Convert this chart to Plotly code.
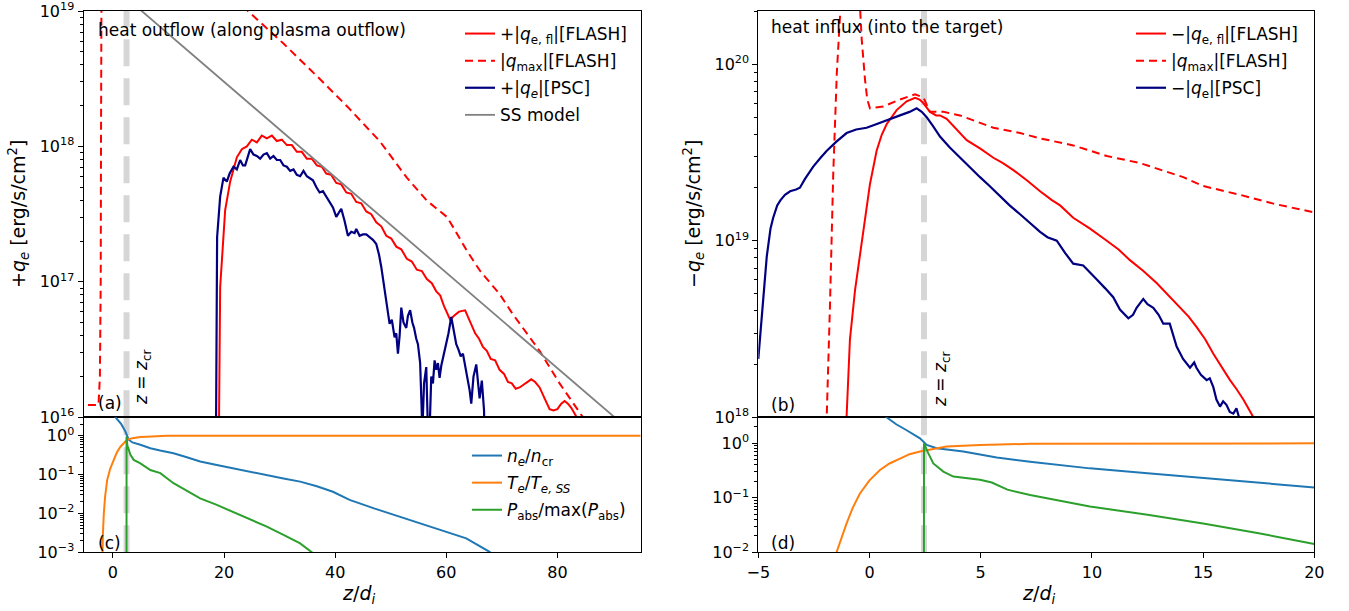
import plotly.graph_objects as go

FONT = "DejaVu Sans"
Z_CR = 2.45

# ---------------- panel (a): heat outflow (log10 of q) ----------------
z_fl_out = [19.0, 19.3, 20.2, 21.1, 22.3, 23.2, 24.1, 25.0, 25.9, 26.8, 27.7, 28.6, 29.5, 30.4,
            31.3, 32.2, 33.1, 34.0, 34.9, 35.8, 36.7, 37.6, 38.4, 39.3, 40.2, 41.1, 42.0, 42.9,
            43.8, 44.7, 45.6, 46.5, 47.4, 48.3, 49.2, 50.1, 51.0, 51.9, 52.9, 53.8, 54.7, 55.6,
            56.5, 57.4, 58.2, 58.9, 59.6, 60.2, 60.7, 61.4, 62.3, 63.4, 64.4, 65.2, 65.9, 66.6,
            67.3, 68.0, 68.8, 69.6, 70.4, 71.1, 71.8, 72.5, 73.2, 74.2, 75.3, 76.0, 76.8, 77.8,
            78.6, 79.3, 80.0, 80.7, 81.3, 81.9, 82.5, 83.2, 83.7, 84.5]
lq_fl_out = [15.5, 16.96, 17.53, 17.74, 17.92, 17.98, 18.00, 18.05, 18.03, 18.08, 18.06, 18.08, 18.04, 18.05,
             18.01, 18.01, 17.96, 17.96, 17.91, 17.91, 17.86, 17.85, 17.80, 17.79, 17.73, 17.72, 17.66, 17.65,
             17.59, 17.58, 17.52, 17.50, 17.44, 17.41, 17.34, 17.32, 17.26, 17.24, 17.17, 17.15, 17.09, 17.08,
             17.02, 16.99, 16.93, 16.90, 16.82, 16.76, 16.72, 16.75, 16.78, 16.79, 16.70, 16.62, 16.58, 16.52,
             16.49, 16.43, 16.42, 16.35, 16.32, 16.26, 16.25, 16.21, 16.22, 16.25, 16.28, 16.26, 16.22, 16.13,
             16.06, 16.05, 16.06, 16.10, 16.12, 16.10, 16.07, 16.02, 15.98, 15.8]

z_max_out = [-4.5, -2.6, -2.35, -2.2, -2.15, -2.1, -2.0, 0.0, 15.0, 24.3, 30.7, 37.2, 42.3, 48.0,
             52.9, 56.5, 60.1, 61.3, 63.7, 66.1, 69.6, 72.0, 76.8, 80.4, 84.6, 86.0]
lq_max_out = [16.09, 16.09, 16.3, 17.0, 18.0, 19.0, 20.0, 20.5, 19.6, 19.0, 18.76, 18.50, 18.29, 18.04,
              17.77, 17.60, 17.48, 17.40, 17.23, 17.08, 16.91, 16.76, 16.49, 16.25, 16.0, 15.9]

z_psc_out = [18.5, 18.7, 18.75, 19.3, 19.9, 20.5, 21.0, 21.7, 22.3, 22.9, 23.4, 23.8, 24.3, 24.7, 25.3,
             25.9, 26.5, 27.1, 27.7, 28.3, 28.9, 29.5, 30.1, 30.7, 31.3, 31.9, 32.5, 33.1, 33.7, 34.3,
             34.9, 35.5, 36.0, 36.6, 37.2, 37.8, 38.4, 39.0, 39.6, 40.2, 40.7, 41.1, 41.7, 42.3, 42.9,
             43.5, 43.8, 44.4, 45.0, 45.6, 46.2, 46.8, 47.4, 47.9, 48.3, 48.7, 49.2, 49.5, 49.8, 50.2,
             50.7, 51.0, 51.3, 51.6, 51.9, 52.3, 52.8, 53.1, 53.5, 53.9, 54.2, 54.6, 54.9, 55.3, 55.7,
             56.0, 56.4, 56.7, 57.0, 57.3, 57.6, 57.9, 58.2, 58.5, 58.8, 59.1, 59.5, 60.0, 60.4, 60.9,
             61.2, 61.5, 61.8, 62.2, 62.6, 63.0, 63.4, 63.8, 64.2, 64.5, 64.9, 65.4, 65.8, 66.0, 66.4,
             66.6, 66.8, 67.0]
lq_psc_out = [15.5, 16.5, 17.33, 17.63, 17.77, 17.74, 17.80, 17.85, 17.83, 17.90, 17.86, 17.86, 17.93, 17.98, 17.94,
              17.93, 17.91, 17.94, 17.95, 17.91, 17.93, 17.90, 17.90, 17.86, 17.85, 17.82, 17.83, 17.79, 17.78, 17.82,
              17.78, 17.76, 17.75, 17.70, 17.66, 17.67, 17.63, 17.58, 17.55, 17.48, 17.52, 17.54, 17.45, 17.34, 17.37,
              17.36, 17.39, 17.34, 17.35, 17.35, 17.33, 17.31, 17.28, 17.20, 17.11, 17.00, 16.89, 16.80, 16.69, 16.72,
              16.59, 16.62, 16.47, 16.60, 16.81, 16.70, 16.66, 16.75, 16.79, 16.70, 16.66, 16.58, 16.54, 16.40, 15.9,
              16.25, 16.37, 15.9, 15.9, 16.30, 16.25, 16.42, 16.35, 16.40, 16.29, 16.38, 16.45, 16.54, 16.62, 16.74,
              16.68, 16.60, 16.54, 16.50, 16.45, 16.47, 16.38, 16.30, 16.20, 16.10, 16.30, 16.39, 16.25, 16.14, 16.27,
              16.12, 16.05, 15.5]

z_ss = [0.0, 95.0]
lq_ss = [19.183, 15.834]

# ---------------- panel (b): heat influx (log10 of q) ----------------
z_fl_in = [-1.1, -1.03, -0.88, -0.65, -0.45, -0.28, 0.02, 0.32, 0.55, 0.77, 1.22, 1.67, 2.05, 2.25,
           2.42, 2.6, 2.72, 3.0, 3.17, 3.47, 3.9, 4.37, 5.0, 5.57, 6.0, 6.47, 7.1, 7.67, 8.2, 8.57,
           9.16, 9.9, 10.67, 11.2, 11.71, 12.3, 12.91, 13.45, 13.96, 14.35, 14.71, 15.1, 15.46,
           15.85, 16.21, 16.5, 16.81, 17.26, 17.5]
lq_fl_in = [17.8, 18.0, 18.44, 18.72, 18.90, 19.04, 19.32, 19.51, 19.60, 19.66, 19.74, 19.79, 19.81, 19.80,
            19.78, 19.75, 19.73, 19.71, 19.71, 19.69, 19.63, 19.57, 19.52, 19.47, 19.44, 19.40, 19.34, 19.28, 19.23, 19.20,
            19.13, 19.07, 19.00, 18.95, 18.89, 18.83, 18.76, 18.69, 18.62, 18.57, 18.51, 18.44, 18.36,
            18.28, 18.21, 18.16, 18.10, 18.0, 17.95]

z_max_in = [-2.0, -1.92, -1.78, -1.63, -1.47, -1.40, -1.3, -1.0, -0.5, -0.35, -0.2, -0.1, 0.02, 0.62,
            1.37, 2.05, 2.43, 2.6, 2.72, 3.32, 4.07, 5.57, 6.77, 7.67, 9.16, 10.67, 12.16, 14.11, 15.0,
            16.66, 18.16, 20.0]
lq_max_in = [17.8, 18.02, 18.62, 19.38, 19.95, 20.14, 20.5, 21.0, 20.5, 20.14, 19.91, 19.80, 19.75, 19.76,
             19.80, 19.83, 19.81, 19.76, 19.73, 19.73, 19.71, 19.64, 19.61, 19.58, 19.54, 19.48, 19.44, 19.36, 19.31,
             19.26, 19.21, 19.16]

z_psc_in = [-5.0, -4.8, -4.62, -4.45, -4.33, -4.15, -4.0, -3.8, -3.57, -3.3, -3.13, -2.9, -2.53, -2.2,
            -1.92, -1.5, -1.03, -0.6, -0.13, 0.3, 0.77, 1.37, 1.8, 2.12, 2.35, 2.57, 2.85, 3.17, 3.6,
            4.07, 4.5, 4.97, 5.4, 5.87, 6.3, 6.77, 7.2, 7.67, 8.0, 8.42, 8.8, 9.16, 9.61, 9.9, 10.22,
            10.6, 10.96, 11.26, 11.64, 11.85, 12.01, 12.31, 12.5, 12.76, 13.0, 13.21, 13.5, 13.81, 14.1,
            14.41, 14.6, 14.7, 14.9, 15.16, 15.3, 15.46, 15.6, 15.76, 15.9, 16.05, 16.2, 16.36, 16.5,
            16.66, 16.8]
lq_psc_in = [18.33, 18.62, 18.91, 19.07, 19.13, 19.20, 19.23, 19.26, 19.28, 19.29, 19.30, 19.35, 19.42, 19.47,
             19.51, 19.56, 19.61, 19.63, 19.64, 19.66, 19.68, 19.71, 19.73, 19.75, 19.73, 19.70, 19.65, 19.59, 19.53,
             19.47, 19.42, 19.36, 19.31, 19.25, 19.20, 19.15, 19.10, 19.05, 19.02, 19.00, 18.93, 18.87, 18.86, 18.82, 18.78,
             18.73, 18.68, 18.61, 18.56, 18.58, 18.62, 18.67, 18.64, 18.62, 18.58, 18.53, 18.53, 18.40, 18.33,
             18.28, 18.31, 18.28, 18.24, 18.21, 18.22, 18.17, 18.10, 18.06, 18.09, 18.07, 18.03, 18.02, 18.05,
             17.98, 17.9]

# ---------------- panel (c): profiles along outflow (log10) ----------------
z_ne_c = [-2.0, 0.45, 1.5, 2.25, 2.84, 3.5, 4.94, 6.73, 8.5, 10.9, 13.3, 15.7, 18.7, 21.7, 24.7, 27.7,
          30.7, 33.7, 36.7, 39.6, 42.6, 47.0, 51.6, 55.9, 60.0, 63.6, 67.8, 68.5]
l_ne_c = [1.2, 0.48, 0.30, 0.11, -0.10, -0.17, -0.23, -0.32, -0.38, -0.45, -0.55, -0.66, -0.75, -0.84, -0.93, -1.01,
          -1.10, -1.18, -1.30, -1.44, -1.65, -1.87, -2.08, -2.27, -2.47, -2.64, -2.99, -3.1]
z_te_c = [-1.95, -1.93, -1.8, -1.64, -1.4, -1.04, -0.5, 0.15, 0.7, 1.35, 2.55, 3.5, 4.94, 7.0, 9.7, 95.0]
l_te_c = [-3.5, -3.0, -2.5, -2.0, -1.55, -1.14, -0.85, -0.62, -0.43, -0.28, -0.10, -0.06, -0.03, -0.015, 0.0, 0.0]
z_pa_c = [2.44, 2.45, 2.6, 3.15, 3.74, 4.94, 6.73, 8.53, 10.9, 13.3, 15.7, 18.7, 21.7, 24.7, 27.7, 30.7,
          33.7, 35.8, 36.5]
l_pa_c = [-6.0, -0.02, -0.25, -0.49, -0.62, -0.71, -0.88, -0.96, -1.22, -1.42, -1.61, -1.78, -1.96, -2.15, -2.34, -2.55,
          -2.77, -3.0, -3.1]

# ---------------- panel (d): profiles near target (log10) ----------------
z_ne_d = [-1.0, 0.77, 1.2, 1.67, 2.27, 2.57, 3.02, 4.22, 5.72, 7.22, 9.91, 12.5, 15.0, 17.5, 20.0]
l_ne_d = [1.0, 0.48, 0.35, 0.24, 0.09, -0.03, -0.09, -0.15, -0.26, -0.34, -0.46, -0.55, -0.64, -0.72, -0.81]
z_te_d = [-1.6, -1.48, -1.03, -0.75, -0.43, 0.0, 0.47, 0.9, 1.37, 1.8, 2.27, 3.47, 4.97, 7.22, 20.0]
l_te_d = [-2.3, -2.0, -1.47, -1.18, -0.92, -0.68, -0.49, -0.37, -0.28, -0.2, -0.15, -0.06, -0.03, -0.01, 0.0]
z_pa_d = [2.44, 2.45, 2.64, 2.87, 3.32, 3.77, 4.97, 5.5, 6.2, 7.22, 9.91, 12.5, 15.0, 17.5, 20.0]
l_pa_d = [-6.0, 0.0, -0.18, -0.37, -0.52, -0.61, -0.67, -0.72, -0.85, -0.95, -1.16, -1.31, -1.47, -1.65, -1.85]

# tick labels
ytick_a = [16, 17, 18, 19]
ytick_b = [18, 19, 20]
ytick_c = [-3, -2, -1, 0]
ytick_d = [-2, -1, 0]
xtick_c = [0, 20, 40, 60, 80]
xtick_d = [-5, 0, 5, 10, 15, 20]

RED, NAVY, GRAY = "#ff0000", "#000080", "#808080"
C_BLUE, C_ORANGE, C_GREEN = "#1f77b4", "#ff7f0e", "#2ca02c"


def p(vals):
    return [10.0 ** v for v in vals]


def sup_label(e):
    return "10<sup>%s%d</sup>" % ("\u2212" if e < 0 else "", abs(e))


def minor_vals(lo, hi):
    return [float(m) * 10.0 ** k for k in range(lo, hi + 1) for m in range(2, 10)]


fig = go.Figure()


def add(x, y, name, color, width, xa, ya, leg=None, dash=None, grp=None):
    line = dict(color=color, width=width)
    if dash:
        line["dash"] = dash
    kw = dict(x=x, y=p(y), mode="lines", line=line, xaxis=xa, yaxis=ya, hoverinfo="skip")
    if leg is None:
        kw["showlegend"] = False
    else:
        kw.update(name=name, legend=leg, legendgroup=grp)
    fig.add_trace(go.Scatter(**kw))


# (a)
add(z_fl_out, lq_fl_out, "+|<i>q</i><sub>e, fl</sub>|[FLASH]", RED, 2, "x", "y", "legend", grp="a1")
add(z_max_out, lq_max_out, "|<i>q</i><sub>max</sub>|[FLASH]", RED, 2, "x", "y", "legend", dash="8px,5px", grp="a2")
add(z_psc_out, lq_psc_out, "+|<i>q<sub>e</sub></i>|[PSC]", NAVY, 2.2, "x", "y", "legend", grp="a3")
add(z_ss, lq_ss, "SS model", GRAY, 1.8, "x", "y", "legend", grp="a4")
# (c)
add(z_ne_c, l_ne_c, "<i>n<sub>e</sub></i>/<i>n</i><sub>cr</sub>", C_BLUE, 2, "x2", "y2", "legend2", grp="c1")
add(z_te_c, l_te_c, "<i>T<sub>e</sub></i>/<i>T<sub>e, SS</sub></i>", C_ORANGE, 2, "x2", "y2", "legend2", grp="c2")
add(z_pa_c, l_pa_c, "<i>P</i><sub>abs</sub>/max(<i>P</i><sub>abs</sub>)", C_GREEN, 2, "x2", "y2", "legend2", grp="c3")
# (b)
add(z_fl_in, lq_fl_in, "\u2212|<i>q</i><sub>e, fl</sub>|[FLASH]", RED, 2, "x3", "y3", "legend3", grp="b1")
add(z_max_in, lq_max_in, "|<i>q</i><sub>max</sub>|[FLASH]", RED, 2, "x3", "y3", "legend3", dash="8px,5px", grp="b2")
add(z_psc_in, lq_psc_in, "\u2212|<i>q</i><sub>e</sub>|[PSC]", NAVY, 2.2, "x3", "y3", "legend3", grp="b3")
# (d)
add(z_ne_d, l_ne_d, None, C_BLUE, 2, "x4", "y4")
add(z_te_d, l_te_d, None, C_ORANGE, 2, "x4", "y4")
add(z_pa_d, l_pa_d, None, C_GREEN, 2, "x4", "y4")

XL = [83.5 / 1349, 640.7 / 1349]
XR = [758.3 / 1349, 1314.3 / 1349]
YT = [(611 - 417.3) / 611, (611 - 11) / 611]
YB = [(611 - 552.3) / 611, (611 - 417.3) / 611]

frame = dict(showline=True, mirror=True, linecolor="black", linewidth=1, showgrid=False, zeroline=False,
             automargin=False, ticklabeloverflow="allow",
             tickfont=dict(family=FONT, size=16, color="black"))


def xax(dom, rng, anchor, ticks=None):
    d = dict(frame, domain=dom, range=rng, anchor=anchor)
    if ticks is None:
        d.update(showticklabels=False, ticks="")
    else:
        d.update(tickmode="array", tickvals=ticks, ticks="outside", ticklen=5, tickwidth=1, tickcolor="black")
    return d


def yax(dom, rng, anchor, exps):
    lo, hi = int(rng[0]), int(rng[1]) + 1
    return dict(frame, domain=dom, type="log", range=[rng[0] - 0.0005, rng[1] + 0.0005], anchor=anchor,
                tickmode="array",
                tickvals=[10.0 ** e for e in exps], ticktext=[sup_label(e) for e in exps],
                ticks="outside", ticklen=5, tickwidth=1, tickcolor="black",
                minor=dict(tickmode="array", tickvals=minor_vals(lo - 1, hi), ticks="outside",
                           ticklen=3, tickwidth=0.8, tickcolor="black"))


leg_common = dict(bgcolor="rgba(0,0,0,0)", font=dict(family=FONT, size=17, color="black"),
                  xanchor="left", yanchor="top", tracegroupgap=2)

annots = []


def ann(text, x, y, size=17, angle=0, xanchor="left", yanchor="middle"):
    annots.append(dict(text=text, x=x / 1349, y=(611 - y) / 611, xref="paper", yref="paper",
                       showarrow=False, textangle=angle, xanchor=xanchor, yanchor=yanchor,
                       font=dict(family=FONT, size=size, color="black")))


ann("heat outflow (along plasma outflow)", 96, 30)
ann("heat influx (into the target)", 769, 27)
ann("(a)", 96, 403)
ann("(c)", 96, 543)
ann("(b)", 769, 405)
ann("(d)", 769, 543)
ann("<i>z</i> = <i>z</i><sub>cr</sub>", 142, 378, angle=-90, xanchor="center")
ann("<i>z</i> = <i>z</i><sub>cr</sub>", 941, 380, angle=-90, xanchor="center")
ann("+<i>q<sub>e</sub></i> [erg/s/cm<sup>2</sup>]", 19, 214, size=19, angle=-90, xanchor="center")
ann("\u2212<i>q<sub>e</sub></i> [erg/s/cm<sup>2</sup>]", 694, 214, size=19, angle=-90, xanchor="center")
ann("<i>z</i>/<i>d<sub>i</sub></i>", 358, 594, size=19, xanchor="center")
ann("<i>z</i>/<i>d<sub>i</sub></i>", 1038, 594, size=19, xanchor="center")

shapes = []
for xr in ("x", "x3"):
    for yd in (YT, YB):
        shapes.append(dict(type="line", xref=xr, yref="paper", x0=Z_CR, x1=Z_CR, y0=yd[0], y1=yd[1],
                           line=dict(color="#d6d6d6", width=6, dash="27px,12px"), layer="below"))

fig.update_layout(
    width=1349, height=611, margin=dict(l=0, r=0, t=0, b=0, autoexpand=False),
    paper_bgcolor="white", plot_bgcolor="white",
    font=dict(family=FONT, size=16, color="black"),
    xaxis=xax(XL, [-5.3, 95], "y"),
    yaxis=yax(YT, [16, 19], "x", ytick_a),
    xaxis2=xax(XL, [-5.3, 95], "y2", xtick_c),
    yaxis2=yax(YB, [-3, 0.477], "x2", ytick_c),
    xaxis3=xax(XR, [-5, 20], "y3"),
    yaxis3=yax(YT, [18, 20.301], "x3", ytick_b),
    xaxis4=xax(XR, [-5, 20], "y4", xtick_d),
    yaxis4=yax(YB, [-2, 0.477], "x4", ytick_d),
    legend=dict(leg_common, x=460 / 1349, y=(611 - 16) / 611),
    legend2=dict(leg_common, x=467 / 1349, y=(611 - 438) / 611),
    legend3=dict(leg_common, x=1131 / 1349, y=(611 - 16) / 611),
    annotations=annots,
    shapes=shapes,
)

fig.write_html("out.html")
